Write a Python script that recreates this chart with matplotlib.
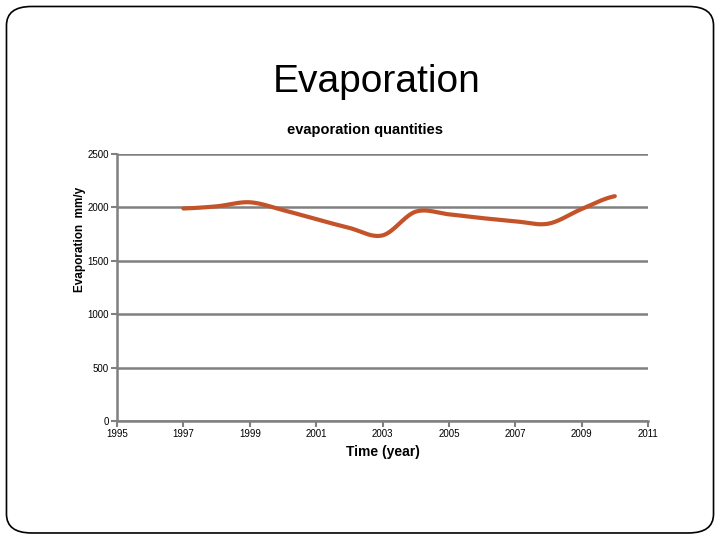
import numpy as np
import matplotlib
matplotlib.use("Agg")
import matplotlib.pyplot as plt
from matplotlib.patches import FancyBboxPatch

years = [1997, 1998, 1999, 2000, 2001, 2002, 2003, 2004, 2005, 2006, 2007, 2008, 2009, 2010]
evaporation = [1990, 2010, 2048, 1975, 1890, 1808, 1738, 1960, 1935, 1900, 1870, 1848, 1985, 2105]
x_ticks = list(range(1995, 2012, 2))
y_ticks = [0, 500, 1000, 1500, 2000, 2500]


def smooth_curve(xs, ys, steps=40):
	# Catmull-Rom style smoothing, like a spreadsheet "smoothed line"
	xs = np.asarray(xs, float)
	ys = np.asarray(ys, float)
	px = np.concatenate([[2 * xs[0] - xs[1]], xs, [2 * xs[-1] - xs[-2]]])
	py = np.concatenate([[ys[0]], ys, [ys[-1]]])
	out_x, out_y = [], []
	for i in range(1, len(px) - 2):
		t = np.linspace(0, 1, steps)
		b0x, b3x = px[i], px[i + 1]
		b0y, b3y = py[i], py[i + 1]
		b1x = b0x + (px[i + 1] - px[i - 1]) / 6
		b1y = b0y + (py[i + 1] - py[i - 1]) / 6
		b2x = b3x - (px[i + 2] - px[i]) / 6
		b2y = b3y - (py[i + 2] - py[i]) / 6
		bx = (1 - t) ** 3 * b0x + 3 * (1 - t) ** 2 * t * b1x + 3 * (1 - t) * t ** 2 * b2x + t ** 3 * b3x
		by = (1 - t) ** 3 * b0y + 3 * (1 - t) ** 2 * t * b1y + 3 * (1 - t) * t ** 2 * b2y + t ** 3 * b3y
		out_x.extend(bx)
		out_y.extend(by)
	return out_x, out_y


plt.rcParams['font.family'] = ['Liberation Sans', 'DejaVu Sans']

fig = plt.figure(figsize=(7.2, 5.4), dpi=100)

# slide frame
frame = FancyBboxPatch((0.009, 0.013), 0.982, 0.975,
	boxstyle="round,pad=0,rounding_size=0.035",
	transform=fig.transFigure, fill=False, edgecolor="black", linewidth=1.2)
fig.patches.append(frame)

fig.text(0.523, 0.848, "Evaporation", ha="center", va="center", fontsize=28)
fig.text(0.507, 0.759, "evaporation quantities", ha="center", va="center",
	fontsize=10.5, fontweight="bold")

ax = fig.add_axes([0.1625, 0.2204, 0.7375, 0.4944])
sx, sy = smooth_curve(years, evaporation)
ax.plot(sx, sy, color="#C4532A", linewidth=3, solid_capstyle="round")

ax.set_xlim(1995, 2011)
ax.set_ylim(0, 2500)
ax.set_xticks(x_ticks)
ax.set_yticks(y_ticks)
ax.tick_params(labelsize=7, colors="black", length=4, width=1.5, pad=2)
ax.tick_params(axis="both", color="#808080")
ax.yaxis.grid(True, color="#808080", linewidth=1.8)
ax.set_axisbelow(True)
for s in ("top", "right"):
	ax.spines[s].set_visible(False)
for s in ("left", "bottom"):
	ax.spines[s].set_color("#808080")
	ax.spines[s].set_linewidth(1.8)

ax.set_xlabel("Time (year)", fontsize=10, fontweight="bold", labelpad=4)
ax.set_ylabel("Evaporation  mm/y", fontsize=8.5, fontweight="bold")
ax.yaxis.set_label_coords(-0.059, 0.68)

fig.savefig("out.png", dpi=100)
